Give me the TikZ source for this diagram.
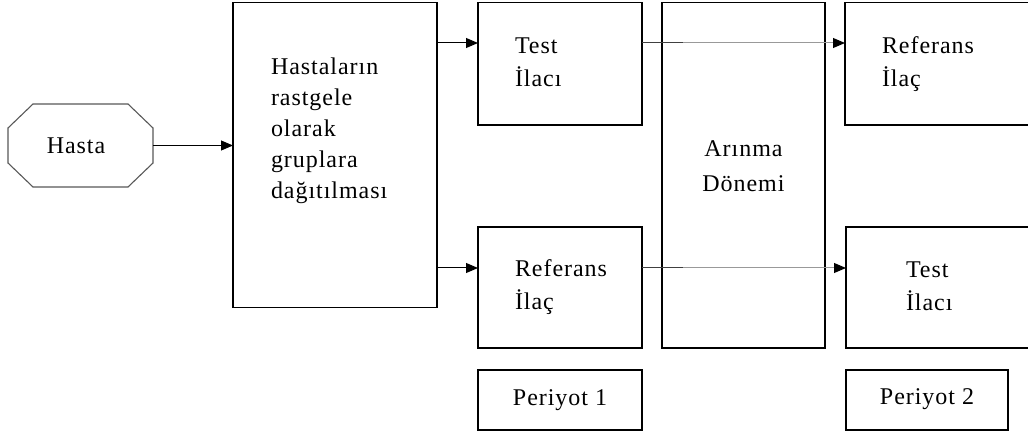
\documentclass[tikz,border=0pt]{standalone}
\usepackage{fontspec}
\setmainfont{Liberation Serif}[LetterSpace=4]
\usetikzlibrary{arrows.meta,calc}
\begin{document}
\begin{tikzpicture}[x=1pt,y=-1pt,
  box/.style={draw=black,line width=1.3pt,rectangle,inner sep=0pt,outer sep=0pt},
  txt/.style={anchor=base west,align=left,inner sep=0pt,outer sep=0pt,font=\fontsize{24}{33}\selectfont},
  bigtext/.style={txt,font=\fontsize{24}{31}\selectfont},
  ctxt/.style={anchor=base,inner sep=0pt,outer sep=0pt,font=\fontsize{24}{31}\selectfont},
  arr/.style={draw=black,line width=1pt,-{Triangle[length=12pt,width=10pt]}},
  garr/.style={draw=black!40,line width=1pt,-{Triangle[length=12pt,width=10pt,color=black]}},
  seg/.style={draw=black!75,line width=1pt}]
\path[fill=white,use as bounding box] (0,0) rectangle (1028,435);

% Hasta octagon
\node[inner sep=0pt,outer sep=0pt,minimum width=145pt,minimum height=83pt] (hasta) at (80.5,145.5) {};
\draw[draw=black!65,line width=1.1pt]
  ($(hasta.north west)+(0,24)$) -- ($(hasta.north west)+(25,0)$) --
  ($(hasta.north east)+(-25,0)$) -- ($(hasta.north east)+(0,24)$) --
  ($(hasta.south east)+(0,-24)$) -- ($(hasta.south east)+(-25,0)$) --
  ($(hasta.south west)+(25,0)$) -- ($(hasta.south west)+(0,-24)$) -- cycle;
\node[ctxt] (hastatxt) at (76,154) {Hasta};

% boxes
\node[box,minimum width=204pt,minimum height=305pt] (big) at (335,155) {};
\node[box,minimum width=164pt,minimum height=122.5pt] (t1) at (560,63.75) {};
\node[box,minimum width=163pt,minimum height=345.5pt] (arin) at (743.5,175.25) {};
\node[box,minimum width=195pt,minimum height=122.5pt] (r1) at (942.5,63.75) {};
\node[box,minimum width=164pt,minimum height=121pt] (r2) at (560,287.5) {};
\node[box,minimum width=194pt,minimum height=121pt] (t2) at (943,287.5) {};
\node[box,minimum width=164pt,minimum height=60pt] (p1) at (560,400) {};
\node[box,minimum width=162pt,minimum height=60pt] (p2) at (927,400) {};

% texts (anchored at the baseline of the last line)
\node[bigtext] (bigtxt) at (271,199) {Hastaların\\rastgele\\olarak\\gruplara\\dağıtılması};
\node[txt] (t1txt) at (515,87) {Test\\İlacı};
\node[txt] (r1txt) at (882,87) {Referans\\İlaç};
\node[ctxt] (arintxt1) at (743.5,157) {Arınma};
\node[ctxt] (arintxt2) at (743.5,192) {Dönemi};
\node[txt] (r2txt) at (515,310) {Referans\\İlaç};
\node[txt] (t2txt) at (906,311) {Test\\İlacı};
\node[ctxt] (p1txt) at (p1.center |- 0,406) {Periyot 1};
\node[ctxt] (p2txt) at (p2.center |- 0,405) {Periyot 2};

% connectors
\coordinate (ytop) at (0,43);
\coordinate (ybot) at (0,268);
\coordinate (m1) at (683,43);
\coordinate (m2) at (683,268);
\draw[arr] (hasta.east) -- (big.west |- hasta.east);
\draw[arr] (big.east |- ytop) -- (t1.west |- ytop);
\draw[arr] (big.east |- ybot) -- (r2.west |- ybot);
\draw[seg] (t1.east |- ytop) -- (m1);
\draw[garr] (m1) -- (r1.west |- ytop);
\draw[seg] (r2.east |- ybot) -- (m2);
\draw[garr] (m2) -- (t2.west |- ybot);
\end{tikzpicture}
\end{document}
